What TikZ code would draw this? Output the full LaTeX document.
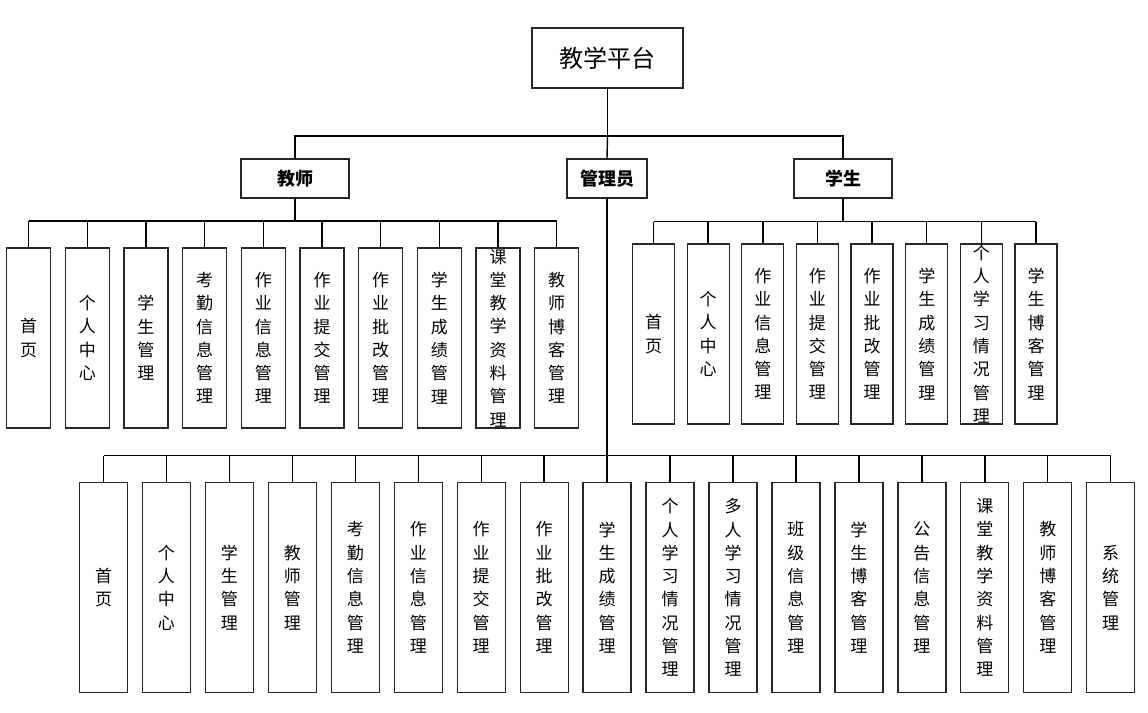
\documentclass[tikz,border=0pt]{standalone}
\usepackage{fontspec}
\newfontfamily\cjk{Noto Sans CJK SC}
\XeTeXlinebreaklocale "zh"
\XeTeXlinebreakskip=0pt plus 1pt
\tikzset{
  mokuai/.style={draw=black!85, line width=1.3pt, inner sep=0pt},
  shu/.style={mokuai, text width=22pt, align=center, font=\cjk\fontsize{17}{23.3}\selectfont},
  juese/.style={mokuai, minimum height=39pt, font=\cjk\bfseries\fontsize{18}{20}\selectfont},
  lian/.style={line width=1.4pt}
}

\begin{document}
\begin{tikzpicture}[x=1pt, y=-1pt]
    \useasboundingbox (0,0) rectangle (1148,712);
    \node[mokuai, minimum width=151pt, minimum height=60pt, font=\cjk\fontsize{24}{26}\selectfont] (pingtai) at (607.5,58) {教学平台};
    \node[juese, minimum width=108pt] (jiaoshi) at (295,178.5) {教师};
    \node[juese, minimum width=80pt] (guanli) at (607,178.5) {管理员};
    \node[juese, minimum width=98pt] (xuesheng) at (843,178.5) {学生};

    \coordinate (topbus) at (0,136);
    \coordinate (jsbus) at (0,221);
    \coordinate (xsbus) at (0,221.5);
    \coordinate (glbus) at (0,455.5);

    % top level
    \draw[lian] (pingtai.south) -- (pingtai.south |- topbus);
    \draw[lian] (jiaoshi.north) -- (jiaoshi.north |- topbus) -| (xuesheng.north);
    \draw[lian] (pingtai.south |- topbus) -- (guanli.north);

    % teacher
    \foreach \t [count=\i] in {首页,个人中心,学生管理,考勤信息管理,作业信息管理,作业提交管理,作业批改管理,学生成绩管理,课堂教学资料管理,教师博客管理}{
      \node[shu, minimum width=44pt, minimum height=180pt] (js\i) at ({28.6+58.68*(\i-1)},338) {\t};
      \draw[lian] (js\i.north) -- (js\i.north |- jsbus);
    }
    \draw[lian] (jiaoshi.south) -- (jiaoshi.south |- jsbus);
    \draw[lian] (js1.north |- jsbus) -- (js10.north |- jsbus);

    % student
    \foreach \t [count=\i] in {首页,个人中心,作业信息管理,作业提交管理,作业批改管理,学生成绩管理,个人学习情况管理,学生博客管理}{
      \node[shu, minimum width=42pt, minimum height=180pt] (xs\i) at ({653.5+54.65*(\i-1)},334) {\t};
      \draw[lian] (xs\i.north) -- (xs\i.north |- xsbus);
    }
    \draw[lian] (xuesheng.south) -- (xuesheng.south |- xsbus);
    \draw[lian] (xs1.north |- xsbus) -- (xs8.north |- xsbus);

    % admin
    \foreach \t [count=\i] in {首页,个人中心,学生管理,教师管理,考勤信息管理,作业信息管理,作业提交管理,作业批改管理,学生成绩管理,个人学习情况管理,多人学习情况管理,班级信息管理,学生博客管理,公告信息管理,课堂教学资料管理,教师博客管理,系统管理}{
      \node[shu, minimum width=48pt, minimum height=210pt] (gl\i) at ({103.5+62.95*(\i-1)},587.5) {\t};
      \draw[lian] (gl\i.north) -- (gl\i.north |- glbus);
    }
    \draw[line width=2.4pt] (guanli.south) -- (guanli.south |- glbus);
    \draw[lian] (gl1.north |- glbus) -- (gl17.north |- glbus);
  \end{tikzpicture}
\end{document}
